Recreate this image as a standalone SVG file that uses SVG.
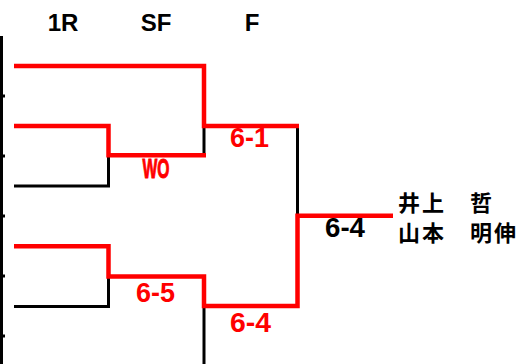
<svg xmlns="http://www.w3.org/2000/svg" width="523" height="364" viewBox="0 0 523 364">
<style>
.blk{fill:none;stroke:#000;stroke-width:3;stroke-linejoin:miter}
.red{fill:none;stroke:#ff0000;stroke-width:4.5;stroke-linejoin:miter}
.hdr{font-family:"Liberation Sans",Arial,sans-serif;font-weight:bold;font-size:24px;fill:#000;text-anchor:middle}
.sc{font-family:"Liberation Sans",Arial,sans-serif;font-weight:bold;font-size:27px;text-anchor:middle}
.nm{font-family:"Noto Sans CJK JP","Noto Sans CJK SC",sans-serif;font-weight:bold;font-size:22px;letter-spacing:2px;fill:#000}
</style>
<rect width="523" height="364" fill="#fff"/>
<g id="headers">
<text class="hdr" x="63" y="31">1R</text>
<text class="hdr" x="156" y="31">SF</text>
<text class="hdr" x="252" y="31">F</text>
</g>
<g id="connectors">
<path class="blk" d="M1.5,36 V364 M0,96 H5 M0,156 H5 M0,216 H5 M0,276 H5 M0,336 H5"/>
<path class="blk" d="M14,186 H108.5 V155"/>
<path class="blk" d="M204,126 V155"/>
<path class="blk" d="M14,306.5 H108.5 V276"/>
<path class="blk" d="M204,306 V364"/>
<path class="blk" d="M297.5,126 V215"/>
<path class="red" d="M14,66 H204 V126 H299"/>
<path class="red" d="M14,126 H108.5 V155.3 H206"/>
<path class="red" d="M14,246.3 H108.5 V276.5 H204 V306 H297.5 V215.8 H393"/>
</g>
<g id="scores">
<text class="sc" x="156" y="178" fill="#ff0000" stroke="#ff0000" stroke-width="1" textLength="27" lengthAdjust="spacingAndGlyphs">WO</text>
<text class="sc" x="249.5" y="147" fill="#ff0000" textLength="39" lengthAdjust="spacingAndGlyphs">6-1</text>
<text class="sc" x="155.5" y="302" fill="#ff0000" textLength="39" lengthAdjust="spacingAndGlyphs">6-5</text>
<text class="sc" x="250.5" y="332" fill="#ff0000" textLength="41" lengthAdjust="spacingAndGlyphs">6-4</text>
<text class="sc" x="345" y="237" fill="#000" textLength="40" lengthAdjust="spacingAndGlyphs">6-4</text>
</g>
<g id="winner">
<text class="nm" x="398" y="210.5">井上　哲</text>
<text class="nm" x="398" y="240.5">山本　明伸</text>
</g>
</svg>
